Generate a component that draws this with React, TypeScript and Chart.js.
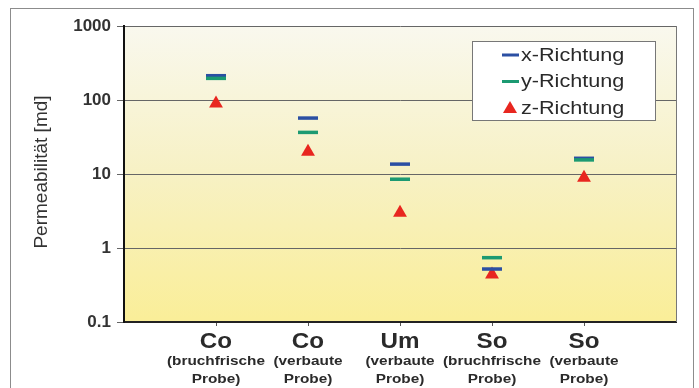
import { useEffect, useRef } from 'react';
import { Chart, registerables } from 'chart.js';
Chart.register(...registerables);

const categories = ['Co', 'Co', 'Um', 'So', 'So'];
const subLine1 = ['(bruchfrische', '(verbaute', '(verbaute', '(bruchfrische', '(verbaute'];
const subLine2 = ['Probe)', 'Probe)', 'Probe)', 'Probe)', 'Probe)'];
const xRichtung = [213, 57, 13.6, 0.52, 16.3];
const yRichtung = [196, 36.5, 8.5, 0.74, 15.5];
const zRichtung = [90, 20, 3.0, 0.44, 8.9];
const yTicks = [0.1, 1, 10, 100, 1000];
const seriesNames = ['x-Richtung', 'y-Richtung', 'z-Richtung'];
const seriesColors = ['#2b4fa3', '#1c9a72', '#e8261f'];
const yTitle = 'Permeabilität [md]';

const FONT = '"Liberation Sans", Arial, sans-serif';

function drawStretched(ctx: CanvasRenderingContext2D, text: string, x: number, y: number, sx: number) {
  ctx.save();
  ctx.translate(x, y);
  ctx.scale(sx, 1);
  ctx.fillText(text, 0, 0);
  ctx.restore();
}

const decorPlugin = {
  id: 'decor',
  beforeDraw(chart: any) {
    const { ctx, chartArea: a, width, height } = chart;
    ctx.save();
    ctx.fillStyle = '#ffffff';
    ctx.fillRect(0, 0, width, height);
    ctx.strokeStyle = '#8c8c8c';
    ctx.lineWidth = 1;
    ctx.strokeRect(10.5, 8.5, 683, 420);
    const g = ctx.createLinearGradient(0, a.top, 0, a.bottom);
    g.addColorStop(0, '#f9f8ee');
    g.addColorStop(0.5, '#f7f1c4');
    g.addColorStop(1, '#faee98');
    ctx.fillStyle = g;
    ctx.fillRect(a.left, a.top, a.right - a.left, a.bottom - a.top);
    ctx.restore();
  },
  afterDraw(chart: any) {
    const { ctx, chartArea: a } = chart;
    const xs = chart.scales.x;
    ctx.save();
    // plot frame right
    ctx.strokeStyle = '#777';
    ctx.lineWidth = 1;
    ctx.beginPath();
    ctx.moveTo(a.right + 0.5, a.top);
    ctx.lineTo(a.right + 0.5, a.bottom);
    ctx.stroke();

    // category labels
    ctx.fillStyle = '#2a2a2a';
    ctx.textAlign = 'center';
    ctx.textBaseline = 'middle';
    categories.forEach((c, i) => {
      const px = xs.getPixelForValue(i + 1);
      ctx.font = `bold 22px ${FONT}`;
      drawStretched(ctx, c, px, 342, 1.1);
      ctx.font = `bold 13px ${FONT}`;
      drawStretched(ctx, subLine1[i], px, 361, 1.18);
      drawStretched(ctx, subLine2[i], px, 379, 1.18);
    });

    // y title
    ctx.save();
    ctx.translate(42, 172);
    ctx.rotate(-Math.PI / 2);
    ctx.font = `19px ${FONT}`;
    ctx.fillStyle = '#333';
    ctx.fillText(yTitle, 0, 0);
    ctx.restore();

    // legend
    ctx.fillStyle = '#ffffff';
    ctx.fillRect(472, 41, 183, 79);
    ctx.strokeStyle = '#777';
    ctx.lineWidth = 1;
    ctx.strokeRect(472.5, 41.5, 183, 79);
    const rows = [55, 81.5, 108];
    seriesNames.forEach((n, i) => {
      const cy = rows[i];
      ctx.fillStyle = seriesColors[i];
      ctx.strokeStyle = seriesColors[i];
      if (i < 2) {
        ctx.lineWidth = 3;
        ctx.beginPath();
        ctx.moveTo(502, cy);
        ctx.lineTo(519, cy);
        ctx.stroke();
      } else {
        ctx.beginPath();
        ctx.moveTo(510, cy - 7);
        ctx.lineTo(517, cy + 5);
        ctx.lineTo(503, cy + 5);
        ctx.closePath();
        ctx.fill();
      }
      ctx.fillStyle = '#2a2a2a';
      ctx.textAlign = 'left';
      ctx.textBaseline = 'middle';
      ctx.font = `18px ${FONT}`;
      drawStretched(ctx, n, 521, cy + 1, 1.2);
    });
    ctx.restore();
  },
};

export default function App() {
  const ref = useRef<HTMLCanvasElement | null>(null);
  useEffect(() => {
    if (!ref.current) return;
    const mk = (vals: number[]) => vals.map((v, i) => ({ x: i + 1, y: v }));
    const chart = new Chart(ref.current, {
      type: 'scatter',
      data: {
        datasets: [
          {
            label: seriesNames[0],
            data: mk(xRichtung),
            pointStyle: 'line',
            pointRadius: 10,
            pointBorderWidth: 3.5,
            borderColor: seriesColors[0],
            backgroundColor: seriesColors[0],
            pointBorderColor: seriesColors[0],
            order: 2,
          },
          {
            label: seriesNames[1],
            data: mk(yRichtung),
            pointStyle: 'line',
            pointRadius: 10,
            pointBorderWidth: 3.5,
            borderColor: seriesColors[1],
            backgroundColor: seriesColors[1],
            pointBorderColor: seriesColors[1],
            order: 1,
          },
          {
            label: seriesNames[2],
            data: mk(zRichtung),
            pointStyle: 'triangle',
            pointRadius: 8,
            pointBorderWidth: 0,
            borderColor: seriesColors[2],
            backgroundColor: seriesColors[2],
            pointBackgroundColor: seriesColors[2],
            order: 3,
          },
        ],
      } as any,
      options: {
        animation: false,
        responsive: true,
        maintainAspectRatio: false,
        layout: { padding: { top: 26, right: 23, left: 0, bottom: 0 } },
        plugins: { legend: { display: false }, tooltip: { enabled: false } },
        scales: {
          x: {
            type: 'linear',
            min: 0,
            max: 6,
            afterBuildTicks: (s: any) => {
              s.ticks = categories.map((_, i) => ({ value: i + 1 }));
            },
            afterFit: (s: any) => {
              s.height = 66;
            },
            ticks: { display: false },
            grid: { drawOnChartArea: false, drawTicks: true, tickLength: 4, color: '#555' },
            border: { display: true, color: '#222', width: 2 },
          },
          y: {
            type: 'logarithmic',
            min: 0.1,
            max: 1000,
            afterBuildTicks: (s: any) => {
              s.ticks = yTicks.map((v) => ({ value: v }));
            },
            afterFit: (s: any) => {
              s.width = 124;
            },
            ticks: {
              callback: (v: any) => String(v),
              font: { family: FONT, size: 17, weight: 'bold' },
              color: '#333',
              padding: 6,
            },
            grid: { color: '#666', lineWidth: 1, tickLength: 7 },
            border: { display: true, color: '#111', width: 2 },
          },
        },
      } as any,
      plugins: [decorPlugin],
    });
    return () => chart.destroy();
  }, []);
  return (
    <div style={{ position: 'absolute', left: 0, top: 0, width: 699, height: 388 }}>
      <canvas ref={ref} />
    </div>
  );
}
